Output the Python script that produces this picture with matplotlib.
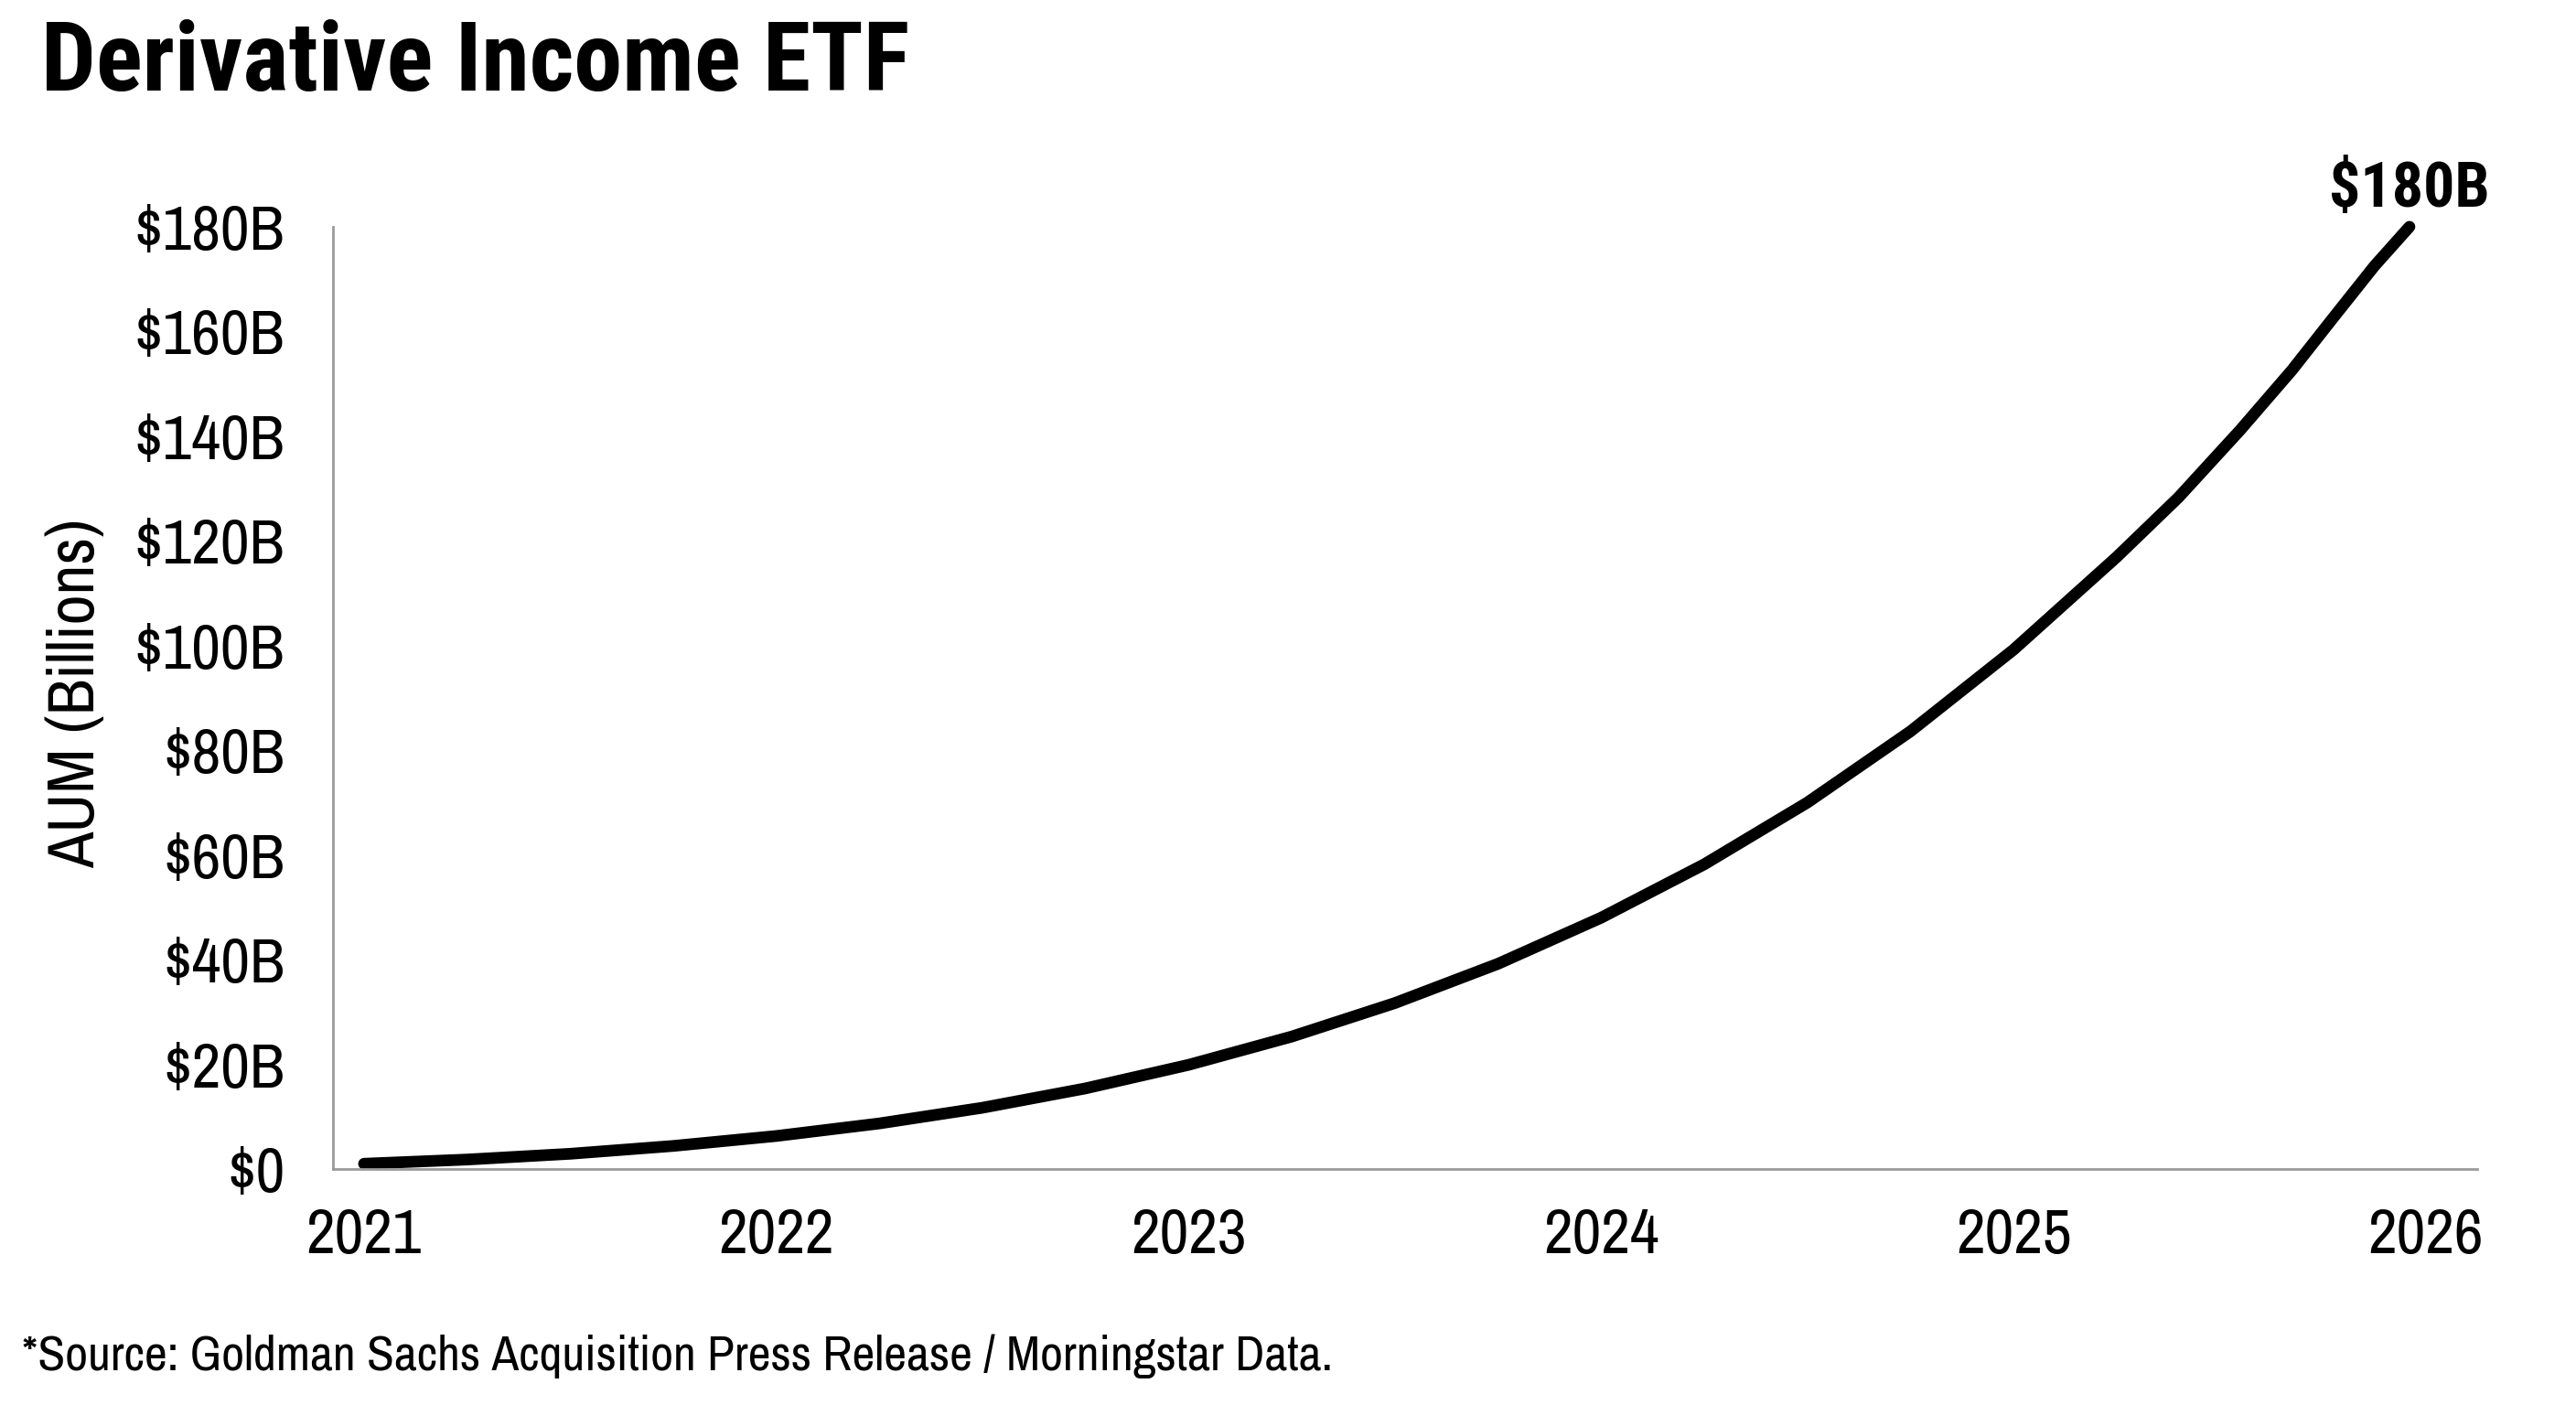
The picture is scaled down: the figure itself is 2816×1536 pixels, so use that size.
import matplotlib

matplotlib.use("Agg")
import matplotlib.pyplot as plt  # noqa: E402
from matplotlib.ticker import FuncFormatter  # noqa: E402

# AUM of derivative income ETFs (USD billions)
years = [2021.0, 2021.25, 2021.5, 2021.75, 2022.0, 2022.25, 2022.5, 2022.75,
         2023.0, 2023.25, 2023.5, 2023.75, 2024.0, 2024.25, 2024.5, 2024.75,
         2025.0, 2025.25, 2025.4, 2025.55, 2025.675, 2025.775, 2025.875, 2025.96]
aum_bn = [1.0, 1.8, 2.9, 4.4, 6.3, 8.7, 11.7, 15.4,
          19.9, 25.3, 31.7, 39.2, 48.0, 58.2, 70.0, 83.6,
          99.2, 116.9, 128.3, 141.2, 152.6, 162.6, 172.5, 180.0]

x_ticks = [2021, 2022, 2023, 2024, 2025, 2026]
y_ticks = [0, 20, 40, 60, 80, 100, 120, 140, 160, 180]

title = "Derivative Income ETF"
y_label = "AUM (Billions)"
end_label = "$180B"
source = "*Source: Goldman Sachs Acquisition Press Release / Morningstar Data."

BODY = ["Archivo Narrow", "DejaVu Sans"]
HEAVY = ["Roboto Condensed", "DejaVu Sans"]
plt.rcParams["font.family"] = BODY

fig = plt.figure(figsize=(14.08, 7.68), dpi=200)
ax = fig.add_axes([0.1293, 0.168, 0.8323, 0.6706])

ax.plot(years, aum_bn, color="black", lw=4.6, solid_capstyle="round",
        solid_joinstyle="round", clip_on=False)

ax.set_xlim(2020.925, 2026.124)
ax.set_ylim(0, 180)
ax.set_xticks(x_ticks)
ax.set_yticks(y_ticks)
ax.xaxis.set_major_formatter(FuncFormatter(lambda v, _: f"{int(v)}"))
ax.yaxis.set_major_formatter(
    FuncFormatter(lambda v, _: "$0" if v == 0 else f"${int(v)}B"))
ax.tick_params(axis="both", length=0, labelsize=25, colors="black")
ax.tick_params(axis="y", pad=19)
ax.tick_params(axis="x", pad=15)

for side in ("top", "right"):
    ax.spines[side].set_visible(False)
for side in ("left", "bottom"):
    ax.spines[side].set_color("#9a9a9a")
    ax.spines[side].set_linewidth(1.0)

ax.set_ylabel(y_label, fontsize=26)
ax.yaxis.set_label_coords(-0.106, 0.505)

ax.annotate(end_label, xy=(years[-1], aum_bn[-1]), xytext=(0, 8),
            textcoords="offset points", ha="center", va="baseline",
            fontsize=24.5, fontweight="bold", family=HEAVY,
            annotation_clip=False)

fig.text(0.016, 0.9355, title, fontsize=38.2, fontweight="bold", family=HEAVY,
         ha="left", va="baseline")
fig.text(0.0085, 0.0247, source, fontsize=19.6, ha="left", va="baseline")

fig.savefig("out.png", dpi=200, facecolor="white")
plt.close(fig)
